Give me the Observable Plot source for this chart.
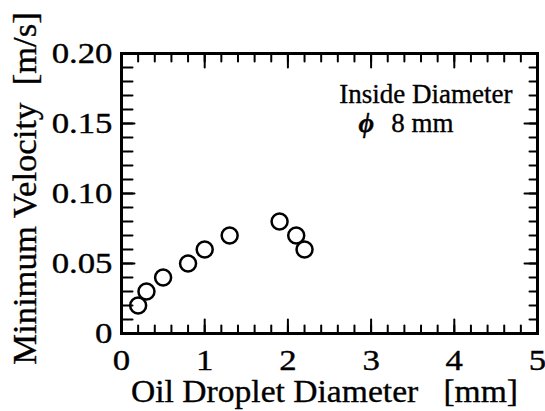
<!DOCTYPE html>
<html><head><meta charset="utf-8">
<script src="https://cdn.jsdelivr.net/npm/d3@7"></script>
<script src="https://cdn.jsdelivr.net/npm/@observablehq/plot@0.6"></script>
<style>body{margin:0;background:#fff}</style>
</head><body><div id="chart"></div>
<script>
// Data
const dropletDiameter = [0.2, 0.3, 0.5, 0.8, 1.0, 1.3, 1.9, 2.1, 2.2];
const minVelocity = [0.02, 0.03, 0.04, 0.05, 0.06, 0.07, 0.08, 0.07, 0.06];

const xTicks = [0, 1, 2, 3, 4, 5];
const xTickLabels = ["0", "1", "2", "3", "4", "5"];
const yTicks = [0, 0.05, 0.10, 0.15, 0.20];
const yTickLabels = ["0", "0.05", "0.10", "0.15", "0.20"];
const xMinorTicks = d3.range(1, 25).map(i => i * 0.2);
const yMinorTicks = d3.range(1, 20).map(i => i * 0.01);

const xLabel = "Oil Droplet Diameter\u00a0\u00a0 [mm]";
const yLabel = "Minimum Velocity\u00a0 [m/s]";
const note1 = "Inside Diameter";
const noteSymbol = "\u03d5";
const note2 = "8 mm";

const data = dropletDiameter.map((x, i) => ({x, y: minVelocity[i]}));

// a plain line-segment shape for inward tick marks
const tickShape = {draw(context, l) { context.moveTo(0, 0); context.lineTo(0, -l); }};
const tk = {shape: tickShape, anchor: "start", stroke: "#000", strokeWidth: 2};
const ink = {fill: "#000", stroke: "#000", strokeWidth: 0.35};

const chart = Plot.plot({
  width: 545,
  height: 411,
  marginLeft: 121,
  marginRight: 8,
  marginTop: 53,
  marginBottom: 78,
  style: {fontFamily: "'Liberation Serif', 'Times New Roman', serif", background: "#fff", color: "#000"},
  x: {domain: [0, 5], axis: null},
  y: {domain: [0, 0.2], axis: null},
  marks: [
    // inward ticks, all four sides
    Plot.vector(xMinorTicks, {x: d => d, frameAnchor: "bottom", length: 8, rotate: 0, ...tk}),
    Plot.vector(xTicks, {x: d => d, frameAnchor: "bottom", length: 14, rotate: 0, ...tk}),
    Plot.vector(xMinorTicks, {x: d => d, frameAnchor: "top", length: 8, rotate: 180, ...tk}),
    Plot.vector(xTicks, {x: d => d, frameAnchor: "top", length: 14, rotate: 180, ...tk}),
    Plot.vector(yMinorTicks, {y: d => d, frameAnchor: "left", length: 11, rotate: 90, ...tk}),
    Plot.vector(yTicks, {y: d => d, frameAnchor: "left", length: 13, rotate: 90, ...tk}),
    Plot.vector(yMinorTicks, {y: d => d, frameAnchor: "right", length: 8, rotate: -90, ...tk}),
    Plot.vector(yTicks, {y: d => d, frameAnchor: "right", length: 13, rotate: -90, ...tk}),
    Plot.frame({stroke: "#000", strokeWidth: 3}),
    // tick labels
    Plot.text(xTicks, {x: d => d, text: (d, i) => xTickLabels[i], frameAnchor: "bottom", dy: 36,
      lineAnchor: "bottom", fontSize: 29, ...ink}),
    Plot.text(yTicks, {y: d => d, text: (d, i) => yTickLabels[i], frameAnchor: "left", textAnchor: "end",
      dx: -9, fontSize: 29, ...ink}),
    // axis titles
    Plot.text([xLabel], {text: d => d, frameAnchor: "bottom", dx: -5, dy: 68, lineAnchor: "bottom", fontSize: 32, ...ink}),
    Plot.text([yLabel], {text: d => d, frameAnchor: "left", rotate: -90, textAnchor: "middle", dx: -86, dy: -5,
      lineAnchor: "bottom", fontSize: 33, ...ink}),
    // annotation
    Plot.text([note1], {text: d => d, frameAnchor: "top-right", textAnchor: "end", dx: -25, dy: 49, lineAnchor: "bottom", fontSize: 27, ...ink}),
    Plot.text([note2], {text: d => d, frameAnchor: "top-right", textAnchor: "end", dx: -84, dy: 78, lineAnchor: "bottom", fontSize: 27, ...ink}),
    Plot.text([noteSymbol], {text: d => d, frameAnchor: "top-right", textAnchor: "start", dx: -179, dy: 78, lineAnchor: "bottom", fontSize: 27, fontWeight: "bold", fontStyle: "italic", ...ink}),
    // data
    Plot.dot(data, {x: "x", y: "y", r: 8, stroke: "#000", strokeWidth: 2.5, fill: "none"})
  ]
});

document.getElementById("chart").appendChild(chart);

// the scanned original uses a wider serif: stretch some texts horizontally about their anchor
const widen = new Map([...yTickLabels, ...xTickLabels].map(s => [s, 1.2]));
widen.set(xLabel, 1.05);
widen.set(yLabel, 1.05);
chart.querySelectorAll("text").forEach(t => {
  const f = widen.get(t.textContent);
  const tr = t.getAttribute("transform");
  if (f && tr) t.setAttribute("transform", `${tr} scale(${f},1)`);
});
</script>
</body></html>
